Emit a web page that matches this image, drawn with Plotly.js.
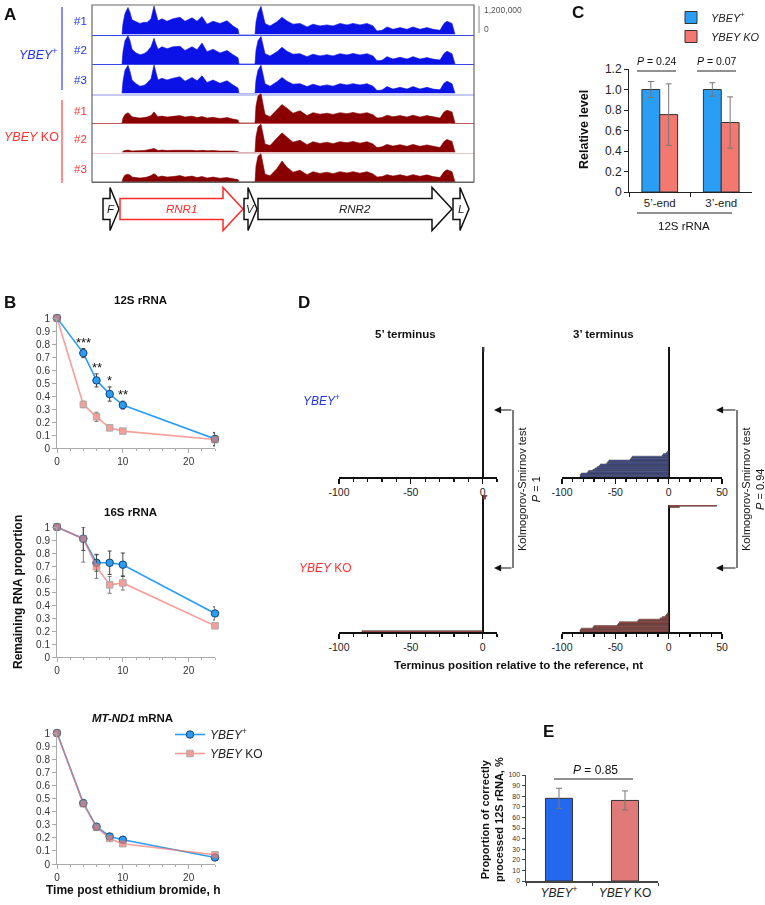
<!DOCTYPE html>
<html>
<head>
<meta charset="utf-8">
<script src="https://cdn.plot.ly/plotly-3.0.1.min.js"></script>
<style>
html,body{margin:0;padding:0;background:#ffffff;overflow:hidden;}
#chart{width:765px;height:905px;}
</style>
</head>
<body>
<div id="chart"></div>
<script>
// ===== Panel A: read coverage along the mt rRNA locus (millions of reads) =====
const covPos = [30,31,33,36,38,40,44,48,52,55,59,62,64,66,70,75,81,88,93,100,105,110,115,121,128,135,141,146,147,
  163,164,166,169,171,173,178,185,190,195,201,208,215,221,228,235,241,248,255,261,268,275,281,285,290,295,301,308,315,321,328,335,341,348,352,355,360,362,363];
const covYbey1 = [0,0.45,0.85,1.1,0.9,0.6,0.52,0.45,0.5,0.49,0.64,1.16,0.85,0.56,0.64,0.54,0.64,0.7,0.54,0.68,0.54,0.73,0.42,0.54,0.45,0.56,0.35,0.22,0,
  0,0.5,0.9,1.15,0.8,0.45,0.35,0.52,0.7,0.55,0.42,0.45,0.31,0.42,0.35,0.39,0.35,0.45,0.39,0.45,0.39,0.45,0.35,0.14,0.17,0.31,0.21,0.28,0.21,0.31,0.21,0.28,0.21,0.17,0.45,0.54,0.45,0.2,0];
const covYbey2 = [0,0.5,0.95,1.15,0.95,0.6,0.45,0.38,0.42,0.5,0.7,1.05,0.8,0.6,0.7,0.62,0.7,0.72,0.55,0.7,0.58,0.85,0.5,0.6,0.45,0.55,0.38,0.25,0,
  0,0.55,0.95,1.12,0.75,0.42,0.33,0.5,0.68,0.52,0.4,0.42,0.3,0.4,0.33,0.38,0.33,0.42,0.37,0.43,0.37,0.42,0.33,0.13,0.15,0.3,0.2,0.27,0.2,0.3,0.2,0.26,0.2,0.16,0.43,0.52,0.42,0.18,0];
const covYbey3 = [0,0.5,0.95,1.15,0.9,0.55,0.4,0.3,0.33,0.42,0.6,1.16,0.85,0.55,0.62,0.55,0.62,0.68,0.5,0.65,0.52,0.72,0.45,0.55,0.42,0.52,0.35,0.22,0,
  0,0.55,0.95,1.15,0.78,0.4,0.3,0.48,0.65,0.5,0.38,0.4,0.28,0.38,0.3,0.35,0.3,0.4,0.35,0.4,0.35,0.4,0.3,0.12,0.14,0.28,0.18,0.25,0.18,0.28,0.18,0.25,0.18,0.15,0.42,0.5,0.4,0.18,0];
const covKO1 = [0,0.2,0.35,0.42,0.35,0.25,0.22,0.2,0.22,0.24,0.3,0.45,0.35,0.25,0.28,0.24,0.27,0.3,0.24,0.28,0.22,0.26,0.2,0.23,0.18,0.22,0.16,0.12,0,
  0,0.7,1.1,1.2,0.8,0.35,0.25,0.55,0.75,0.6,0.4,0.5,0.3,0.42,0.36,0.4,0.35,0.42,0.38,0.43,0.37,0.42,0.34,0.2,0.22,0.32,0.25,0.3,0.24,0.32,0.24,0.3,0.24,0.2,0.45,0.52,0.45,0.2,0];
const covKO2 = [0,0.05,0.08,0.1,0.08,0.06,0.07,0.06,0.08,0.1,0.12,0.16,0.12,0.08,0.1,0.08,0.09,0.1,0.08,0.09,0.07,0.09,0.07,0.08,0.06,0.07,0.06,0.04,0,
  0,0.65,1.05,1.15,0.75,0.35,0.28,0.6,0.8,0.62,0.42,0.5,0.32,0.44,0.37,0.42,0.36,0.44,0.4,0.45,0.38,0.44,0.35,0.2,0.23,0.33,0.26,0.32,0.25,0.33,0.25,0.31,0.25,0.2,0.45,0.53,0.45,0.2,0];
const covKO3 = [0,0.15,0.28,0.32,0.28,0.2,0.18,0.16,0.18,0.2,0.26,0.34,0.28,0.2,0.24,0.2,0.22,0.26,0.2,0.24,0.18,0.22,0.16,0.2,0.15,0.18,0.13,0.1,0,
  0,0.65,1.05,1.15,0.75,0.32,0.25,0.55,0.85,0.6,0.4,0.48,0.3,0.42,0.35,0.4,0.34,0.42,0.37,0.42,0.36,0.42,0.33,0.2,0.22,0.3,0.24,0.3,0.23,0.3,0.23,0.29,0.22,0.18,0.42,0.5,0.42,0.18,0];
const trackLabels = ['#1','#2','#3','#1','#2','#3'];
const geneNames = ['F','RNR1','V','RNR2','L'];
const geneStart = [11,28,152,166,361];
const geneEnd = [27,151,165,360,377];
const scaleLabels = ['1,200,000','0'];

// ===== Panel B: decay after ethidium bromide =====
const timeH = [0,4,6,8,10,24];
const s12Ybey = [1,0.73,0.52,0.415,0.33,0.07];
const s12YbeyErr = [0,0.035,0.05,0.055,0.03,0.05];
const s12KO = [1,0.335,0.24,0.155,0.13,0.065];
const s12KOErr = [0,0.025,0.035,0.015,0.015,0.05];
const s16Ybey = [1,0.91,0.725,0.725,0.71,0.335];
const s16YbeyErr = [0,0.09,0.065,0.09,0.09,0.05];
const s16KO = [1,0.91,0.695,0.555,0.57,0.24];
const s16KOErr = [0,0.18,0.09,0.065,0.055,0.02];
const nd1Ybey = [1,0.465,0.285,0.21,0.185,0.05];
const nd1YbeyErr = [0,0.02,0.02,0.015,0.015,0.01];
const nd1KO = [1,0.46,0.28,0.195,0.155,0.07];
const nd1KOErr = [0,0.02,0.02,0.02,0.015,0.01];
const sigStars = ['***','**','*','**'];
const sigIdx = [1,2,3,4];

// ===== Panel C: relative 12S rRNA level =====
const cCats = ['5end','3end'];
const cTickText = ['5\u2019-end','3\u2019-end'];
const cYbey = [1.0,1.0];
const cYbeyErr = [0.078,0.066];
const cKO = [0.755,0.678];
const cKOErr = [0.30,0.25];
const cPvals = ['0.24','0.07'];
const cTickVals = [0,0.2,0.4,0.6,0.8,1.0,1.2];
const cTickLab = ['0','0.2','0.4','0.6','0.8','1.0','1.2'];

// ===== Panel D: terminus positions (nt relative to reference) and read counts =====
const d5YbeyPos = [0,1];            const d5YbeyCnt = [96,4];
const d3YbeyPos = [-83,-82,-76,-75,-71,-69,-67,-65,-64,-58,-57,-56,-36,-35,-34,-6,-5,-2,-1,0];
const d3YbeyCnt = [2,1,1,1,1,1,1,1,1,1,1,1,1,1,1,1,1,1,1,80];
const d5KOPos = [-84,0,2,3];        const d5KOCnt = [1,96,2,1];
const d3KOPos = [-83,-82,-71,-70,-48,-47,-46,-29,-28,-8,-6,-3,-2,-1,0,10,45];
const d3KOCnt = [2,1,1,1,1,1,1,1,1,1,1,1,1,1,82,1,1];
const dTickVals = [-100,-50,0,50];
const dTickText = ['-100','-50','0','50'];
const ksP = ['1','0.94'];

// ===== Panel E: correctly processed 12S rRNA =====
const eCats = ['YBEY+','YBEY KO'];
const eTickText = ['<i>YBEY</i><sup>+</sup>','<i>YBEY</i> KO'];
const eVals = [78,76];
const eErr = [9.5,9];
const ePval = '0.85';

// ===== helpers =====
const W = 765, H = 905;
const X = p => p / W;
const Y = p => 1 - p / H;
const FONT = 'Liberation Sans, Arial, Helvetica, sans-serif';
const ax = n => (n === 1 ? '' : String(n));
const BLUE = '#2a9df4', SALMON = '#f3786f';
const traces = [], shapes = [], annotations = [];
const layout = {
  width: W, height: H, autosize: false,
  margin: {l:0, r:0, t:0, b:0, pad: 0, autoexpand: false},
  paper_bgcolor: '#ffffff', plot_bgcolor: 'rgba(0,0,0,0)',
  font: {family: FONT, size: 11, color: '#222'},
  barmode: 'overlay', showlegend: true, hovermode: false
};
function txt(t, x, y, size, opts) {
  annotations.push(Object.assign({text: t, x: X(x), y: Y(y), xref: 'paper', yref: 'paper',
    xanchor: 'center', yanchor: 'middle',
    showarrow: false, font: {size: size, color: '#111', family: FONT}}, opts || {}));
}
function line(x0, y0, x1, y1, color, width) {
  shapes.push({type: 'line', xref: 'paper', yref: 'paper', x0: X(x0), y0: Y(y0), x1: X(x1), y1: Y(y1),
    line: {color: color, width: width}});
}

// ---------- Panel A ----------
const covTracks = [covYbey1, covYbey2, covYbey3, covKO1, covKO2, covKO3];
const trackFill = ['#0a12e6','#0a12e6','#0a12e6','#8a0000','#8a0000','#8a0000'];
const baseColor = ['#3a48e6','#3a48e6','#c4caf4','#c05a5a','#e6c8c8','#666666'];
const baseWidth = [1.2,1.2,2.5,1.2,1.5,1.2];
covTracks.forEach((vals, i) => {
  const n = i + 1;
  traces.push({type: 'scatter', mode: 'lines', x: covPos, y: vals, xaxis: 'x' + ax(n), yaxis: 'y' + ax(n),
    fill: 'tozeroy', fillcolor: trackFill[i], line: {color: trackFill[i], width: 0.6}, showlegend: false});
  const top = 5 + 29.5 * i, bot = top + 29.5;
  layout['xaxis' + ax(n)] = {domain: [X(92), X(474)], range: [0, 382], anchor: 'y' + ax(n),
    showline: true, linecolor: baseColor[i], linewidth: baseWidth[i], showticklabels: false, ticks: '',
    showgrid: false, zeroline: false, fixedrange: true};
  layout['yaxis' + ax(n)] = {domain: [Y(bot), Y(top)], range: [0, 1.2], anchor: 'x' + ax(n), visible: false, fixedrange: true};
});
shapes.push({type: 'rect', xref: 'paper', yref: 'paper', x0: X(92), x1: X(474), y0: Y(182), y1: Y(5),
  line: {color: '#666', width: 1.2}});
const trackLabelY = [21, 50, 80, 111, 139, 169];
trackLabels.forEach((t, i) => txt(t, 80, trackLabelY[i], 11.5, {font: {size: 11.5, family: FONT, color: i < 3 ? '#2233ee' : '#ff3333'}}));
line(62, 7, 62, 90, '#3344ee', 1.2);
line(62, 100, 62, 183, '#ff4444', 1.2);
txt('<i>YBEY</i><sup>+</sup>', 38, 54, 12.5, {font: {size: 12.5, family: FONT, color: '#2233ee'}});
txt('<i>YBEY</i> KO', 32, 137, 12.5, {font: {size: 12.5, family: FONT, color: '#ff3333'}});
line(479, 6, 479, 33, '#888', 1);
txt(scaleLabels[0], 482, 10, 8.5, {xanchor: 'left', font: {size: 8.5, family: FONT, color: '#555'}});
txt(scaleLabels[1], 482, 29, 8.5, {xanchor: 'left', font: {size: 8.5, family: FONT, color: '#555'}});
geneNames.forEach((g, i) => {
  const x0 = geneStart[i], x1 = geneEnd[i], head = (x1 - x0) > 50 ? 20 : 9, xh = x1 - head;
  const yc = 209, bh = 10.5, hh = 21.5;
  const col = g === 'RNR1' ? '#ff2a2a' : '#111';
  const path = `M ${x0},${Y(yc - bh)} L ${xh},${Y(yc - bh)} L ${xh},${Y(yc - hh)} L ${x1},${Y(yc)} L ${xh},${Y(yc + hh)} L ${xh},${Y(yc + bh)} L ${x0},${Y(yc + bh)} Z`;
  shapes.push({type: 'path', xref: 'x6', yref: 'paper', path: path, fillcolor: '#ffffff', line: {color: col, width: 1.5}});
  annotations.push({xref: 'x6', yref: 'paper', x: (x0 + x1) / 2, y: Y(yc), xanchor: 'center', yanchor: 'middle',
    text: '<i>' + g + '</i>', showarrow: false,
    font: {size: 11.5, family: FONT, color: g === 'RNR1' ? '#ff2a2a' : '#222'}});
});

// ---------- Panel B ----------
const bSets = [
  {yb: s12Ybey, eb: s12YbeyErr, yk: s12KO, ek: s12KOErr, top: 318, bot: 448, leg: false},
  {yb: s16Ybey, eb: s16YbeyErr, yk: s16KO, ek: s16KOErr, top: 527, bot: 657, leg: false},
  {yb: nd1Ybey, eb: nd1YbeyErr, yk: nd1KO, ek: nd1KOErr, top: 733, bot: 864, leg: true}
];
bSets.forEach((s, i) => {
  const n = 7 + i;
  traces.push({type: 'scatter', mode: 'lines+markers', x: timeH, y: s.yb, xaxis: 'x' + n, yaxis: 'y' + n,
    name: '<i>YBEY</i><sup>+</sup>', legendgroup: 'yb', showlegend: s.leg, cliponaxis: false,
    line: {color: BLUE, width: 1.6}, marker: {symbol: 'circle', size: 7.5, color: BLUE, line: {color: '#1b3f75', width: 1}},
    error_y: {type: 'data', array: s.eb, color: '#444', thickness: 1, width: 2}});
  traces.push({type: 'scatter', mode: 'lines+markers', x: timeH, y: s.yk, xaxis: 'x' + n, yaxis: 'y' + n,
    name: '<i>YBEY</i> KO', legendgroup: 'ko', showlegend: s.leg, cliponaxis: false, opacity: 0.72,
    line: {color: SALMON, width: 1.6}, marker: {symbol: 'square', size: 6.5, color: SALMON, line: {color: '#888', width: 1}},
    error_y: {type: 'data', array: s.ek, color: '#444', thickness: 1, width: 2}});
  layout['xaxis' + n] = {domain: [X(57), X(215)], range: [0, 24], anchor: 'y' + n, showline: true, linecolor: '#aaa', linewidth: 1,
    ticks: 'outside', ticklen: 4, tickcolor: '#aaa', dtick: 10, tick0: 0, showgrid: false, zeroline: false,
    minor: {tickmode: 'linear', tick0: 0, dtick: 2, ticks: 'outside', ticklen: 2, tickcolor: '#aaa'},
    tickfont: {size: 10, color: '#333', family: FONT}};
  layout['yaxis' + n] = {domain: [Y(s.bot), Y(s.top)], range: [0, 1], anchor: 'x' + n, showline: true, linecolor: '#aaa', linewidth: 1,
    ticks: 'outside', ticklen: 4, tickcolor: '#aaa', dtick: 0.1, tick0: 0, showgrid: false, zeroline: false,
    tickfont: {size: 10, color: '#333', family: FONT}};
});
sigStars.forEach((s, k) => {
  const i = sigIdx[k];
  annotations.push({xref: 'x7', yref: 'y7', x: timeH[i], y: s12Ybey[i] + s12YbeyErr[i] + 0.05, text: s, showarrow: false,
    xanchor: 'center', yanchor: 'middle', font: {size: 13, color: '#111', family: FONT}});
});
txt('<b>12S rRNA</b>', 140, 300, 11.5);
txt('<b>16S rRNA</b>', 130, 512, 11.5);
txt('<b><i>MT-ND1</i> mRNA</b>', 132, 718, 11.5);
txt('<b>Remaining RNA proportion</b>', 18, 592, 12, {textangle: -90});
txt('<b>Time post ethidium bromide, h</b>', 133, 890, 12);
layout.legend = {x: X(170), y: Y(720), xanchor: 'left', yanchor: 'top', bgcolor: 'rgba(0,0,0,0)',
  font: {size: 12, family: FONT, color: '#222'}, tracegroupgap: 0, itemwidth: 30};

// ---------- Panel C ----------
traces.push({type: 'bar', x: cCats, y: cYbey, xaxis: 'x10', yaxis: 'y10', name: '<i>YBEY</i><sup>+</sup>', legend: 'legend2',
  offset: -0.29, width: 0.29, marker: {color: BLUE, line: {color: '#333', width: 1}},
  error_y: {type: 'data', array: cYbeyErr, color: '#777', thickness: 1, width: 3}});
traces.push({type: 'bar', x: cCats, y: cKO, xaxis: 'x10', yaxis: 'y10', name: '<i>YBEY KO</i>', legend: 'legend2',
  offset: 0, width: 0.29, marker: {color: SALMON, line: {color: '#333', width: 1}},
  error_y: {type: 'data', array: cKOErr, color: '#777', thickness: 1, width: 3}});
layout.xaxis10 = {domain: [X(629), X(752)], anchor: 'y10', type: 'category', range: [-0.5, 1.5],
  tickvals: cCats, ticktext: cTickText, showline: true, linecolor: '#222', linewidth: 1, ticks: 'outside', tickson: 'boundaries',
  ticklen: 4, tickcolor: '#222', showgrid: false, tickfont: {size: 11.5, color: '#222', family: FONT}};
layout.yaxis10 = {domain: [Y(192), Y(69)], anchor: 'x10', range: [0, 1.2], tickvals: cTickVals, ticktext: cTickLab,
  showline: true, linecolor: '#222', linewidth: 1, ticks: 'outside', ticklen: 4, tickcolor: '#222', showgrid: false, zeroline: false,
  tickfont: {size: 12, color: '#222', family: FONT}};
layout.legend2 = {x: X(671), y: Y(3), xanchor: 'left', yanchor: 'top', bgcolor: 'rgba(0,0,0,0)',
  font: {size: 11, family: FONT, color: '#222'}, itemwidth: 30};
txt('<i>P</i> = ' + cPvals[0], 657, 61, 10.5);
txt('<i>P</i> = ' + cPvals[1], 717, 61, 10.5);
line(637, 71, 676, 71, '#222', 1);
line(697, 71, 736, 71, '#222', 1);
line(637, 213, 732, 213, '#222', 1);
txt('12S rRNA', 684, 226, 11.5);
txt('<b>Relative level</b>', 584, 130, 12.5, {textangle: -90});

// ---------- Panel D ----------
function expand(pos, cnt) { const r = []; pos.forEach((p, i) => { for (let k = 0; k < cnt[i]; k++) r.push(p); }); return r; }
const dSets = [
  {pos: d5YbeyPos, cnt: d5YbeyCnt, n: 11, x: [339, 497], r: [-100, 10], y: [347, 477], fill: '#5565bf'},
  {pos: d3YbeyPos, cnt: d3YbeyCnt, n: 12, x: [562, 722], r: [-100, 50], y: [347, 477], fill: '#5565bf'},
  {pos: d5KOPos, cnt: d5KOCnt, n: 13, x: [339, 497], r: [-100, 10], y: [495, 632], fill: '#c75a55'},
  {pos: d3KOPos, cnt: d3KOCnt, n: 14, x: [562, 722], r: [-100, 50], y: [505, 632], fill: '#c75a55'}
];
dSets.forEach(s => {
  const reads = expand(s.pos, s.cnt);
  traces.push({type: 'bar', orientation: 'h', x: reads, y: reads.map((_, i) => i), width: 1,
    xaxis: 'x' + s.n, yaxis: 'y' + s.n, showlegend: false,
    marker: {color: s.fill, line: {color: '#222', width: 0.5}}});
  layout['xaxis' + s.n] = {domain: [X(s.x[0]), X(s.x[1])], range: s.r, anchor: 'y' + s.n,
    tickvals: dTickVals, ticktext: dTickText, showline: true, linecolor: '#111', linewidth: 1.5,
    ticks: 'outside', ticklen: 5, tickwidth: 1.2, tickcolor: '#111', showgrid: false,
    zeroline: true, zerolinecolor: '#111', zerolinewidth: 1.8,
    minor: {tickmode: 'linear', tick0: 0, dtick: 10, ticks: 'outside', ticklen: 3, tickcolor: '#111'},
    tickfont: {size: 10.5, color: '#222', family: FONT}};
  layout['yaxis' + s.n] = {domain: [Y(s.y[1]), Y(s.y[0])], range: [-0.5, reads.length - 0.5], anchor: 'x' + s.n, visible: false};
});
txt('<b>5\u2019 terminus</b>', 405, 334, 11.5);
txt('<b>3\u2019 terminus</b>', 603, 334, 11.5);
txt('<i>YBEY</i><sup>+</sup>', 321, 400, 12, {font: {size: 12, family: FONT, color: '#2233ee'}});
txt('<i>YBEY</i> KO', 325, 568, 12, {font: {size: 12, family: FONT, color: '#ff3333'}});
txt('<b>Terminus position relative to the reference, nt</b>', 518, 665, 11.5);
[[513, 494], [737, 716]].forEach((b, k) => {
  line(b[0], 410, b[0], 568, '#111', 1.1);
  [410, 568].forEach(yy => annotations.push({x: X(b[1]), y: Y(yy), xref: 'paper', yref: 'paper', text: '',
    showarrow: true, ax: b[0] - b[1], ay: 0, arrowhead: 2, arrowsize: 1.3, arrowwidth: 1.1, arrowcolor: '#111'}));
  txt('Kolmogorov-Smirnov test<br><i>P</i> = ' + ksP[k], b[0] + 16, 489, 11, {textangle: -90});
});

// ---------- Panel E ----------
traces.push({type: 'bar', x: eCats, y: eVals, xaxis: 'x15', yaxis: 'y15', width: 0.41, showlegend: false,
  marker: {color: ['#2468f0', '#e07a78'], line: {color: '#333', width: 1}},
  error_y: {type: 'data', array: eErr, color: '#777', thickness: 1, width: 3}});
layout.xaxis15 = {domain: [X(526), X(658)], anchor: 'y15', type: 'category', range: [-0.5, 1.5],
  tickvals: eCats, ticktext: eTickText, showline: true, linecolor: '#444', linewidth: 1.5, ticks: 'outside', tickson: 'boundaries',
  ticklen: 3, tickcolor: '#444', showgrid: false, tickfont: {size: 12, color: '#222', family: FONT}};
layout.yaxis15 = {domain: [Y(881), Y(775)], anchor: 'x15', range: [0, 100], dtick: 10, tick0: 0,
  showline: true, linecolor: '#444', linewidth: 1.5, ticks: 'outside', ticklen: 3, tickcolor: '#444', showgrid: false, zeroline: false,
  tickfont: {size: 7, color: '#333', family: FONT}};
txt('<i>P</i> = ' + ePval, 595, 770, 12);
line(554, 779, 633, 779, '#222', 1);
txt('<b>Proportion of correctly<br>processed 12S rRNA, %</b>', 492, 820, 11, {textangle: -90});

// ---------- Panel letters ----------
txt('<b>A</b>', 2, 3, 17, {xanchor: 'left', yanchor: 'top'});
txt('<b>B</b>', 2, 291, 17, {xanchor: 'left', yanchor: 'top'});
txt('<b>C</b>', 570, 1, 17, {xanchor: 'left', yanchor: 'top'});
txt('<b>D</b>', 296, 291, 17, {xanchor: 'left', yanchor: 'top'});
txt('<b>E</b>', 541, 720, 17, {xanchor: 'left', yanchor: 'top'});

layout.shapes = shapes;
layout.annotations = annotations;
Plotly.newPlot('chart', traces, layout, {staticPlot: true, displayModeBar: false});
</script>
</body>
</html>
